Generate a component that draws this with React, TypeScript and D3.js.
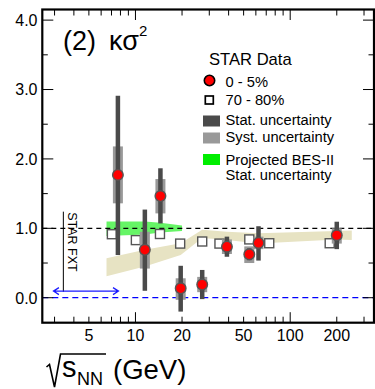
import React, { useEffect, useRef } from 'react';
import * as d3 from 'd3';

// ---- data ----
const energies = [7.7, 11.5, 14.5, 19.6, 27, 39, 54.4, 62.4, 200];
const central = [1.77, 0.69, 1.465, 0.135, 0.19, 0.735, 0.625, 0.79, 0.9];
const statLow = [0.615, 0.1, 1.07, -0.2, -0.02, 0.59, 0.54, 0.535, 0.7];
const statHigh = [2.91, 1.27, 1.865, 0.46, 0.4, 0.88, 0.71, 1.03, 1.095];
const systLow = [1.36, 0.42, 1.215, -0.03, 0.08, 0.63, 0.5, 0.7, 0.78];
const systHigh = [2.18, 0.95, 1.71, 0.28, 0.3, 0.84, 0.74, 0.88, 1.0];

const periphEnergies = [7.04, 10.06, 14.4, 19.45, 27, 34.9, 54.4, 73.2, 180];
const periphValues = [0.915, 0.83, 0.918, 0.78, 0.81, 0.78, 0.84, 0.785, 0.785];

const bandEnergies = [6.5, 11.5, 19.6, 27, 39, 62.4, 200, 250];
const bandLow = [0.31, 0.45, 0.615, 0.86, 0.83, 0.78, 0.84, 0.83];
const bandHigh = [0.57, 0.69, 0.785, 0.98, 0.95, 0.93, 0.96, 0.97];

const besEnergies = [6.5, 11.5, 14.5, 20];
const besLow = [0.89, 0.91, 0.94, 0.96];
const besHigh = [1.1, 1.1, 1.08, 1.04];

const xMajorTicks = [10, 100];
const xMinorTicks = [3, 4, 5, 6, 7, 8, 9, 20, 30, 40, 50, 60, 70, 80, 90, 200, 300];
const xTickLabels = [5, 10, 20, 50, 100, 200];
const yMajorTicks = [0, 1, 2, 3, 4];
const yMinorTicks = [0.5, 1.5, 2.5, 3.5];

const fxtEnergy = 3.42;
const fxtRange = [0.086, 1.24];
const arrowEnergies = [2.95, 7.77];
const arrowValue = 0.095;

const FONT = "'Liberation Sans', Arial, Helvetica, sans-serif";

export default function App() {
  const ref = useRef<SVGSVGElement>(null);

  useEffect(() => {
    const svg = d3.select(ref.current);
    svg.selectAll('*').remove();

    const L = 42.3, R = 374, T = 9.5, B = 322.7;
    const x = d3.scaleLog().domain([2.5, 348]).range([L, R]);
    const y = d3.scaleLinear().domain([-0.36, 4.153]).range([B, T]);

    svg.append('rect').attr('width', 375).attr('height', 389).attr('fill', '#fff');

    const g = svg.append('g');

    // tan band
    const area = d3.area<number>()
      .x((_, i) => x(bandEnergies[i]))
      .y0((_, i) => y(bandLow[i]))
      .y1((_, i) => y(bandHigh[i]));
    g.append('path').attr('d', area(bandEnergies) as string).attr('fill', '#e7e3c3');

    // green band
    const area2 = d3.area<number>()
      .x((_, i) => x(besEnergies[i]))
      .y0((_, i) => y(besLow[i]))
      .y1((_, i) => y(besHigh[i]));
    g.append('path').attr('d', area2(besEnergies) as string).attr('fill', '#00ee00').attr('opacity', 0.6);

    // dashed lines
    g.append('line').attr('x1', L).attr('x2', R).attr('y1', y(1)).attr('y2', y(1))
      .attr('stroke', '#000').attr('stroke-width', 1.2).attr('stroke-dasharray', '5,4');
    g.append('line').attr('x1', L).attr('x2', R).attr('y1', y(0)).attr('y2', y(0))
      .attr('stroke', '#0000ff').attr('stroke-width', 1.2).attr('stroke-dasharray', '6,4');

    // STAR FXT annotation
    g.append('line').attr('x1', x(fxtEnergy)).attr('x2', x(fxtEnergy))
      .attr('y1', y(fxtRange[1])).attr('y2', y(fxtRange[0]))
      .attr('stroke', '#000').attr('stroke-width', 1);
    g.append('text')
      .attr('transform', `translate(${x(fxtEnergy) + 5},${y(fxtRange[1]) + 0.5}) rotate(90)`)
      .attr('font-family', FONT).attr('font-size', 12.5).attr('fill', '#000')
      .text('STAR FXT');
    const ax1 = x(arrowEnergies[0]), ax2 = x(arrowEnergies[1]), ay = y(arrowValue);
    g.append('path')
      .attr('d', `M${ax1},${ay}L${ax2},${ay}M${ax1 + 5.5},${ay - 3.5}L${ax1},${ay}L${ax1 + 5.5},${ay + 3.5}M${ax2 - 5.5},${ay - 3.5}L${ax2},${ay}L${ax2 - 5.5},${ay + 3.5}`)
      .attr('fill', 'none').attr('stroke', '#1a1aff').attr('stroke-width', 1.2);

    // peripheral squares
    g.selectAll('rect.per').data(periphEnergies).enter().append('rect')
      .attr('x', (d) => x(d) - 4.5).attr('y', (_, i) => y(periphValues[i]) - 4.5)
      .attr('width', 9).attr('height', 9)
      .attr('fill', '#fff').attr('stroke', '#555').attr('stroke-width', 1.4);

    // syst boxes
    g.selectAll('rect.sys').data(energies).enter().append('rect')
      .attr('x', (d) => x(d) - 5).attr('y', (_, i) => y(systHigh[i]))
      .attr('width', 10).attr('height', (_, i) => y(systLow[i]) - y(systHigh[i]))
      .attr('fill', '#999');

    // stat bars
    g.selectAll('rect.stat').data(energies).enter().append('rect')
      .attr('x', (d) => x(d) - 2.25).attr('y', (_, i) => y(statHigh[i]))
      .attr('width', 4.5).attr('height', (_, i) => y(statLow[i]) - y(statHigh[i]))
      .attr('fill', '#4a4a4a');

    // central points
    g.selectAll('circle.c').data(energies).enter().append('circle')
      .attr('cx', (d) => x(d)).attr('cy', (_, i) => y(central[i]))
      .attr('r', 5.3).attr('fill', '#ff0000').attr('stroke', '#555').attr('stroke-width', 1.4);

    // frame
    g.append('rect').attr('x', L).attr('y', T).attr('width', R - L).attr('height', B - T)
      .attr('fill', 'none').attr('stroke', '#000').attr('stroke-width', 2.2);

    // x ticks
    const tick = (xv: number, len: number) => {
      g.append('line').attr('x1', x(xv)).attr('x2', x(xv)).attr('y1', B).attr('y2', B - len)
        .attr('stroke', '#000').attr('stroke-width', 1);
      g.append('line').attr('x1', x(xv)).attr('x2', x(xv)).attr('y1', T).attr('y2', T + len)
        .attr('stroke', '#000').attr('stroke-width', 1);
    };
    xMajorTicks.forEach((v) => tick(v, 10.5));
    xMinorTicks.forEach((v) => tick(v, 6));
    xTickLabels.forEach((v) => {
      g.append('text').attr('x', x(v)).attr('y', 341).attr('text-anchor', 'middle')
        .attr('font-family', FONT).attr('font-size', 16).attr('fill', '#000').text(String(v));
    });

    // y ticks
    const ytick = (yv: number, len: number) => {
      g.append('line').attr('x1', L).attr('x2', L + len).attr('y1', y(yv)).attr('y2', y(yv))
        .attr('stroke', '#000').attr('stroke-width', 1);
      g.append('line').attr('x1', R).attr('x2', R - len).attr('y1', y(yv)).attr('y2', y(yv))
        .attr('stroke', '#000').attr('stroke-width', 1);
    };
    yMajorTicks.forEach((v) => ytick(v, 11));
    yMinorTicks.forEach((v) => ytick(v, 5.5));
    yMajorTicks.forEach((v) => {
      g.append('text').attr('x', 37.5).attr('y', y(v) + 5.8).attr('text-anchor', 'end')
        .attr('font-family', FONT).attr('font-size', 16).attr('fill', '#000').text(v.toFixed(1));
    });

    // panel label
    g.append('text').attr('x', 63).attr('y', 50).attr('font-family', FONT)
      .attr('font-size', 27).attr('fill', '#000').text('(2)');
    g.append('text').attr('x', 109).attr('y', 50).attr('font-family', FONT)
      .attr('font-size', 27).attr('fill', '#000').text('κσ');
    g.append('text').attr('x', 139).attr('y', 36).attr('font-family', FONT)
      .attr('font-size', 15).attr('fill', '#000').text('2');

    // x axis title
    g.append('path').attr('d', 'M46.5,367 L49.5,364.5 L54.5,387 L60.5,354 L106,354')
      .attr('fill', 'none').attr('stroke', '#000').attr('stroke-width', 1.6);
    g.append('text').attr('x', 62).attr('y', 377).attr('font-family', FONT)
      .attr('font-size', 29).attr('fill', '#000').text('s');
    g.append('text').attr('x', 77).attr('y', 385).attr('font-family', FONT)
      .attr('font-size', 18).attr('fill', '#000').text('NN');
    g.append('text').attr('x', 113).attr('y', 379).attr('font-family', FONT)
      .attr('font-size', 27.5).attr('fill', '#000').text('(GeV)');

    // legend
    const lg = g.append('g').attr('font-family', FONT).attr('fill', '#000');
    lg.append('text').attr('x', 209).attr('y', 65).attr('font-size', 16.6).text('STAR Data');
    lg.append('circle').attr('cx', 209.5).attr('cy', 80.5).attr('r', 5.2)
      .attr('fill', '#ff0000').attr('stroke', '#000').attr('stroke-width', 1.6);
    lg.append('text').attr('x', 225.5).attr('y', 86.5).attr('font-size', 14.7).text('0 - 5%');
    lg.append('rect').attr('x', 205.3).attr('y', 96).attr('width', 8).attr('height', 8)
      .attr('fill', '#fff').attr('stroke', '#000').attr('stroke-width', 1.7);
    lg.append('text').attr('x', 225.5).attr('y', 104.5).attr('font-size', 14.7).text('70 - 80%');
    lg.append('rect').attr('x', 203).attr('y', 115.5).attr('width', 17).attr('height', 11).attr('fill', '#4a4a4a');
    lg.append('text').attr('x', 225.5).attr('y', 125).attr('font-size', 14.7).text('Stat. uncertainty');
    lg.append('rect').attr('x', 203).attr('y', 132.5).attr('width', 17).attr('height', 11).attr('fill', '#999');
    lg.append('text').attr('x', 225.5).attr('y', 142).attr('font-size', 14.7).text('Syst. uncertainty');
    lg.append('rect').attr('x', 203).attr('y', 154).attr('width', 17).attr('height', 11).attr('fill', '#00ee00');
    lg.append('text').attr('x', 225.5).attr('y', 164.5).attr('font-size', 14.7).text('Projected BES-II');
    lg.append('text').attr('x', 225.5).attr('y', 180).attr('font-size', 14.7).text('Stat. uncertainty');
  }, []);

  return (
    <svg
      ref={ref}
      width={375}
      height={389}
      style={{ position: 'absolute', left: 0, top: 0, display: 'block' }}
    />
  );
}
